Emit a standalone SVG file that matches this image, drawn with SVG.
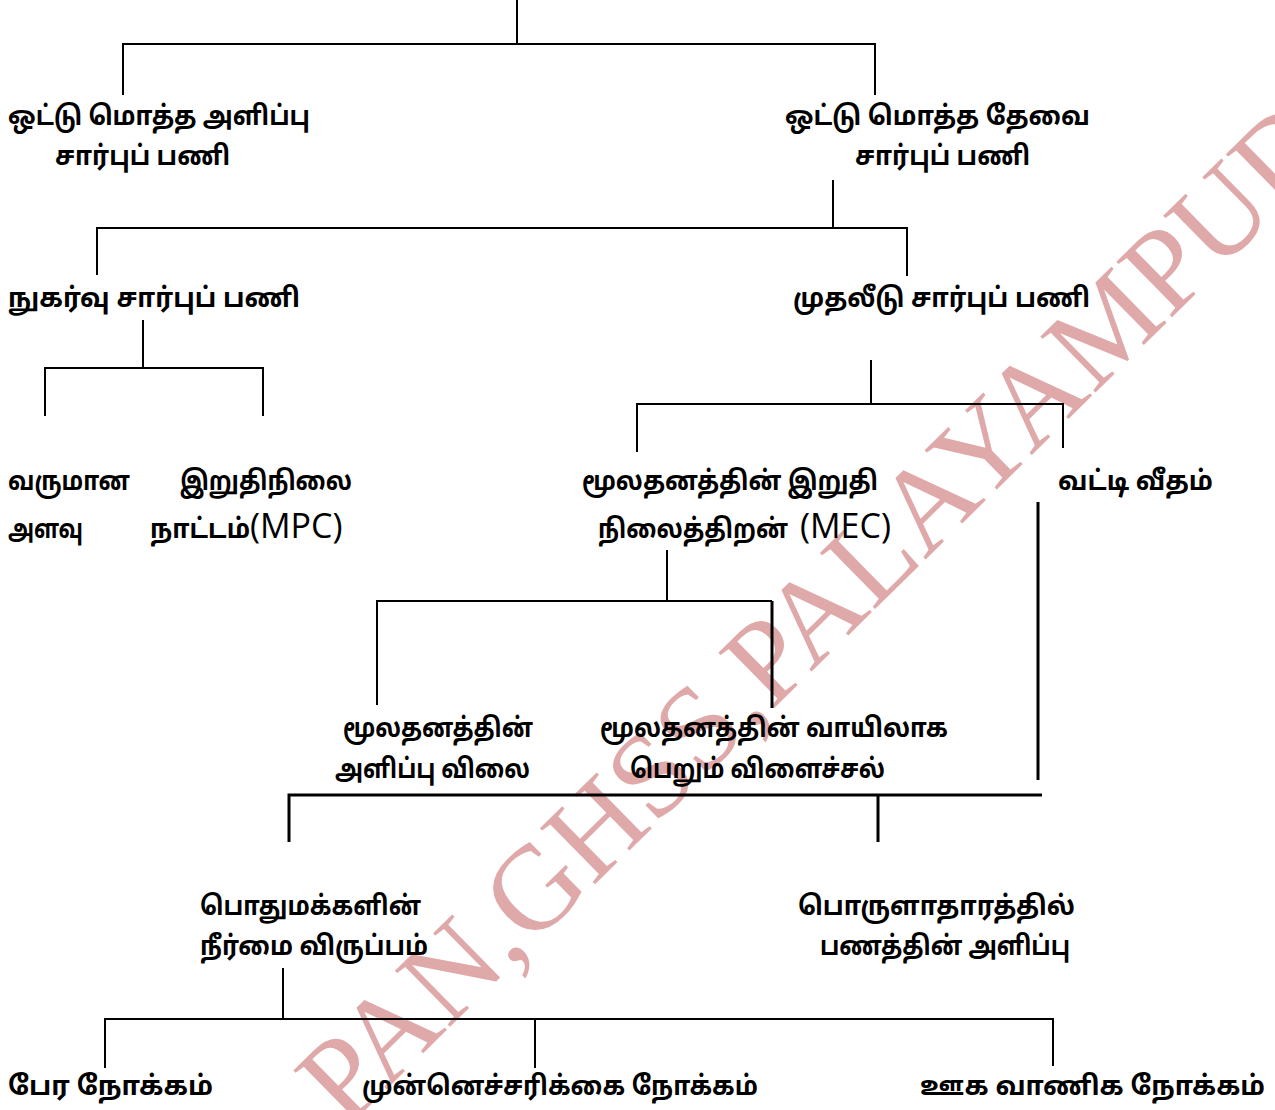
<svg xmlns="http://www.w3.org/2000/svg" width="1275" height="1110" viewBox="0 0 1275 1110">
<style>
.t{font-family:"Noto Sans Tamil","Latha","Noto Sans","DejaVu Sans",sans-serif;font-size:27px;font-weight:bold;fill:#000}
.l{font-family:"Open Sans","Liberation Sans",sans-serif;font-weight:normal;font-size:34px}
.c{stroke:#000;stroke-width:2;fill:none}
.k{stroke-width:3}
.wm{font-family:"Liberation Serif","Times New Roman",serif;font-size:120px;fill:#d99a9a;fill-opacity:0.85}
</style>
<rect width="1275" height="1110" fill="#fff"/>
<g id="watermark">
<text class="wm" transform="translate(346,1129) rotate(-44.5)">PAN,GHSS,PALAYAMPUDUR</text>
</g>
<g id="connectors">
<path class="c" d="M517 0V44M123 95V44H875V95"/>
<path class="c" d="M833 180V228M97 275V228H907V276"/>
<path class="c" d="M143 320V368M45 416V368H263V416"/>
<path class="c" d="M871 360V404M637 452V404H1063V448"/>
<path class="c" d="M667 550V601M377 705V601H772"/>
<path class="c k" d="M772 601V708"/>
<path class="c k" d="M1038 502V780M289 842V795H1042M878 795V842"/>
<path class="c" d="M283 968V1019M105 1068V1019H1053V1066M535 1019V1068"/>
</g>
<g id="n1"><text class="t" x="8" y="125" textLength="302" lengthAdjust="spacingAndGlyphs">ஒட்டு மொத்த அளிப்பு</text><text class="t" x="55" y="165" textLength="175" lengthAdjust="spacingAndGlyphs">சார்புப் பணி</text></g>
<g id="n2"><text class="t" x="785" y="125" textLength="305" lengthAdjust="spacingAndGlyphs">ஒட்டு மொத்த தேவை</text><text class="t" x="855" y="165" textLength="175" lengthAdjust="spacingAndGlyphs">சார்புப் பணி</text></g>
<g id="n3"><text class="t" x="8" y="307" textLength="292" lengthAdjust="spacingAndGlyphs">நுகர்வு சார்புப் பணி</text></g>
<g id="n4"><text class="t" x="793" y="307" textLength="297" lengthAdjust="spacingAndGlyphs">முதலீடு சார்புப் பணி</text></g>
<g id="n5"><text class="t" x="8" y="490" textLength="122" lengthAdjust="spacingAndGlyphs">வருமான</text><text class="t" x="8" y="538" textLength="75" lengthAdjust="spacingAndGlyphs">அளவு</text></g>
<g id="n6"><text class="t" x="180" y="490" textLength="172" lengthAdjust="spacingAndGlyphs">இறுதிநிலை</text><text class="t" x="150" y="538"><tspan textLength="100" lengthAdjust="spacingAndGlyphs">நாட்டம்</tspan><tspan class="l">(MPC)</tspan></text></g>
<g id="n7"><text class="t" x="582" y="490" textLength="296" lengthAdjust="spacingAndGlyphs">மூலதனத்தின் இறுதி</text><text class="t" x="598" y="538"><tspan textLength="190" lengthAdjust="spacingAndGlyphs">நிலைத்திறன்</tspan><tspan class="l" x="800">(MEC)</tspan></text></g>
<g id="n8"><text class="t" x="1058" y="490" textLength="155" lengthAdjust="spacingAndGlyphs">வட்டி வீதம்</text></g>
<g id="n9"><text class="t" x="343" y="737" textLength="190" lengthAdjust="spacingAndGlyphs">மூலதனத்தின்</text><text class="t" x="335" y="778" textLength="195" lengthAdjust="spacingAndGlyphs">அளிப்பு விலை</text></g>
<g id="n10"><text class="t" x="600" y="737" textLength="348" lengthAdjust="spacingAndGlyphs">மூலதனத்தின் வாயிலாக</text><text class="t" x="630" y="778" textLength="255" lengthAdjust="spacingAndGlyphs">பெறும் விளைச்சல்</text></g>
<g id="n11"><text class="t" x="200" y="915" textLength="221" lengthAdjust="spacingAndGlyphs">பொதுமக்களின்</text><text class="t" x="200" y="955" textLength="228" lengthAdjust="spacingAndGlyphs">நீர்மை விருப்பம்</text></g>
<g id="n12"><text class="t" x="798" y="915" textLength="277" lengthAdjust="spacingAndGlyphs">பொருளாதாரத்தில்</text><text class="t" x="820" y="955" textLength="250" lengthAdjust="spacingAndGlyphs">பணத்தின் அளிப்பு</text></g>
<g id="n13"><text class="t" x="8" y="1095" textLength="205" lengthAdjust="spacingAndGlyphs">பேர நோக்கம்</text></g>
<g id="n14"><text class="t" x="362" y="1095" textLength="396" lengthAdjust="spacingAndGlyphs">முன்னெச்சரிக்கை நோக்கம்</text></g>
<g id="n15"><text class="t" x="920" y="1095" textLength="345" lengthAdjust="spacingAndGlyphs">ஊக வாணிக நோக்கம்</text></g>
</svg>
